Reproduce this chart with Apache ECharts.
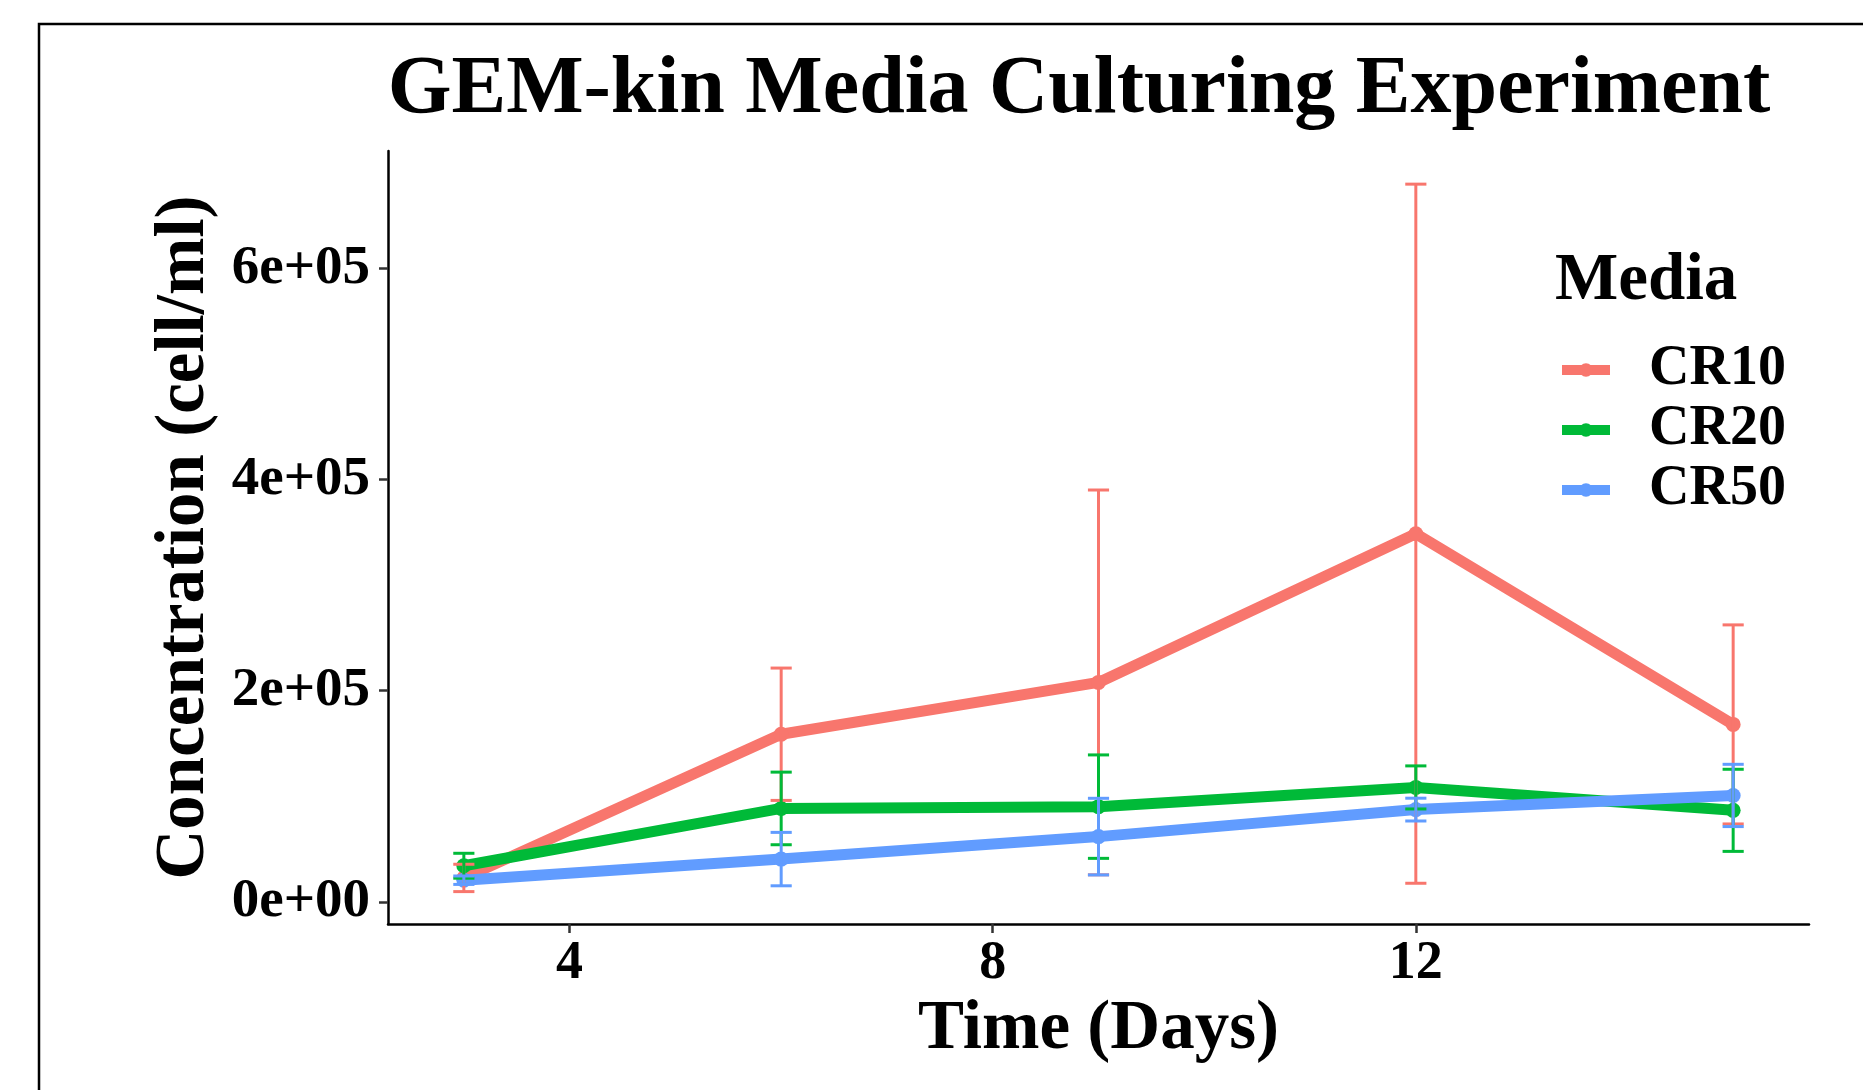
<!DOCTYPE html>
<html>
<head>
<meta charset="utf-8">
<script src="https://cdn.jsdelivr.net/npm/echarts@6/dist/echarts.min.js"></script>
<style>
html,body{margin:0;padding:0;background:#fff;}
#chart{width:1863px;height:1090px;}
</style>
</head>
<body>
<div id="chart"></div>
<script>
// ---- data ----
const days = [3, 6, 9, 12, 15];
const seriesNames = ['CR10', 'CR20', 'CR50'];
const cr10Mean = [22650, 158800, 207900, 348800, 168100];
const cr10Err  = [12950, 62700, 182300, 331200, 94300];
const cr20Mean = [34200, 88500, 90200, 108400, 86700];
const cr20Err  = [11800, 34400, 49000, 20400, 38900];
const cr50Mean = [20500, 40500, 61800, 87400, 100800];
const cr50Err  = [4000, 25300, 36300, 10800, 29500];
const colors = ['#F8766D', '#00BA38', '#619CFF'];
const xTickValues = [4, 8, 12];
const yTickValues = [0, 200000, 400000, 600000];
const yTickLabels = ['0e+00', '2e+05', '4e+05', '6e+05'];
const errorBarWidth = 0.2; // in days

const means = [cr10Mean, cr20Mean, cr50Mean];
const errs = [cr10Err, cr20Err, cr50Err];
const FONT = '"Liberation Serif", "Times New Roman", serif';

const chart = echarts.init(document.getElementById('chart'), null, {renderer: 'canvas'});

const lineSeries = seriesNames.map((name, i) => ({
  name: name,
  type: 'line',
  data: days.map((d, k) => [d, means[i][k]]),
  symbol: 'circle',
  symbolSize: 15,
  showSymbol: true,
  lineStyle: {width: 11, color: colors[i]},
  itemStyle: {color: colors[i]},
  z: 2 + i,
  emphasis: {disabled: true},
  animation: false
}));

const errSeries = seriesNames.map((name, i) => ({
  name: name,
  type: 'custom',
  data: days.map((d, k) => [d, means[i][k] - errs[i][k], means[i][k] + errs[i][k]]),
  encode: {x: 0, y: [1, 2]},
  z: 10 + i,
  silent: true,
  animation: false,
  renderItem: function (params, api) {
    const x = api.value(0), lo = api.value(1), hi = api.value(2);
    const pLo = api.coord([x, lo]);
    const pHi = api.coord([x, hi]);
    const pL = api.coord([x - errorBarWidth / 2, lo]);
    const pR = api.coord([x + errorBarWidth / 2, lo]);
    const style = {stroke: colors[i], lineWidth: 3, fill: null};
    return {
      type: 'group',
      children: [
        {type: 'line', shape: {x1: pLo[0], y1: pLo[1], x2: pHi[0], y2: pHi[1]}, style: style},
        {type: 'line', shape: {x1: pL[0], y1: pLo[1], x2: pR[0], y2: pLo[1]}, style: style},
        {type: 'line', shape: {x1: pL[0], y1: pHi[1], x2: pR[0], y2: pHi[1]}, style: style}
      ]
    };
  }
}));

const option = {
  backgroundColor: '#ffffff',
  animation: false,
  title: [
    {
      text: 'GEM-kin Media Culturing Experiment',
      left: 1074, top: 45, textAlign: 'center',
      textStyle: {fontFamily: FONT, fontWeight: 'bold', fontSize: 82, color: '#000'}
    },
    {
      text: 'Media',
      left: 1550, top: 243,
      textStyle: {fontFamily: FONT, fontWeight: 'bold', fontSize: 67, color: '#000'}
    }
  ],
  legend: {
    data: seriesNames,
    orient: 'vertical',
    left: 1552, top: 335,
    itemWidth: 48, itemHeight: 17,
    itemGap: 0,
    selectedMode: false,
    lineStyle: {width: 10},
    textStyle: {fontFamily: FONT, fontWeight: 'bold', fontSize: 56, color: '#000', lineHeight: 60, padding: [0, 0, 0, 34]}
  },
  grid: {left: 388, right: 54, top: 151, bottom: 166, containLabel: false},
  xAxis: {
    type: 'value', min: 2.283, max: 15.717,
    name: 'Time (Days)', nameLocation: 'middle', nameGap: 62,
    nameTextStyle: {fontFamily: FONT, fontWeight: 'bold', fontSize: 69, color: '#000'},
    splitLine: {show: false},
    axisLine: {show: true, onZero: false, lineStyle: {color: '#000', width: 2.5}},
    axisTick: {show: true, length: 9, lineStyle: {color: '#333', width: 2.5}, customValues: xTickValues},
    axisLabel: {fontFamily: FONT, fontWeight: 'bold', fontSize: 54, color: '#000', margin: 13, customValues: xTickValues}
  },
  yAxis: {
    type: 'value', min: -21000, max: 711400,
    name: 'Concentration (cell/ml)', nameLocation: 'middle', nameGap: 168,
    nameTextStyle: {fontFamily: FONT, fontWeight: 'bold', fontSize: 69, color: '#000'},
    splitLine: {show: false},
    axisLine: {show: true, onZero: false, lineStyle: {color: '#000', width: 2.5}},
    axisTick: {show: true, length: 9, lineStyle: {color: '#333', width: 2.5}, customValues: yTickValues},
    axisLabel: {
      fontFamily: FONT, fontWeight: 'bold', fontSize: 55, color: '#000', margin: 18,
      customValues: yTickValues,
      formatter: function (v) {
        const idx = yTickValues.indexOf(v);
        return idx >= 0 ? yTickLabels[idx] : '';
      }
    }
  },
  graphic: [
    {
      type: 'rect', silent: true, z: 100,
      shape: {x: 39, y: 24, width: 3000, height: 3000},
      style: {fill: null, stroke: '#000', lineWidth: 2.5}
    }
  ],
  series: lineSeries.concat(errSeries)
};

chart.setOption(option);
</script>
</body>
</html>
